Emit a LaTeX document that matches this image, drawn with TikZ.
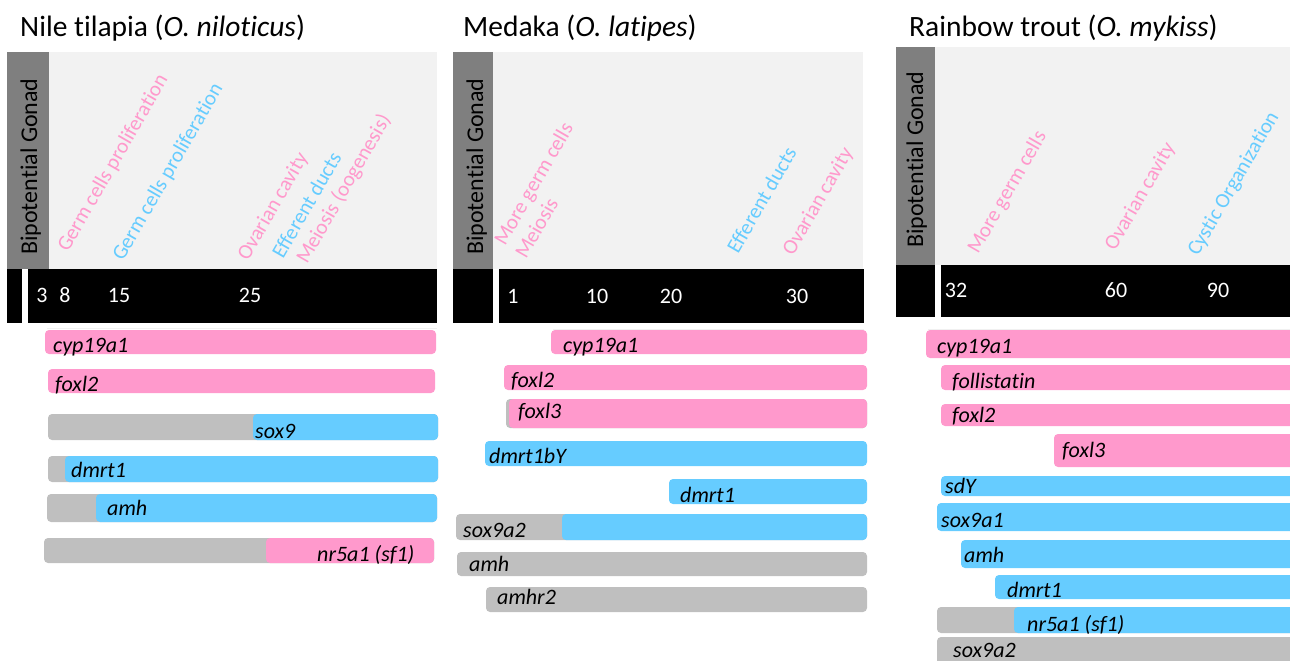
\documentclass[tikz,border=0pt]{standalone}
\usepackage{fontspec}
\setmainfont{Carlito}[Ligatures=CommonOff]
\definecolor{fempink}{HTML}{FF99CC}
\definecolor{malblue}{HTML}{66CCFF}
\definecolor{bargray}{HTML}{BFBFBF}
\definecolor{boxgray}{HTML}{7F7F7F}
\definecolor{bggray}{HTML}{F2F2F2}
\tikzset{
  title/.style={anchor=base west, inner sep=0pt, font=\fontsize{29.5}{30}\selectfont},
  gonad/.style={anchor=base west, rotate=90, inner sep=0pt, font=\fontsize{24}{24}\selectfont},
  stage/.style={anchor=base west, rotate=60, inner sep=0pt, font=\fontsize{21}{21}\selectfont},
  day/.style={text=white, inner sep=0pt, font=\fontsize{22}{22}\selectfont},
  gene/.style={anchor=base west, inner sep=0pt, font=\fontsize{22}{22}\selectfont\itshape},
  genebar/.style={rounded corners=4pt},
  faint/.style={draw=black!6, line width=0.8pt}
}
\begin{document}
\begin{tikzpicture}[x=1pt,y=-1pt]
    \useasboundingbox (0,0) rectangle (1290,661);
    \clip (0,0) rectangle (1290,661);
    % Nile tilapia
    \node[title] (T1) at (20,37) {Nile tilapia (\textit{O. niloticus})};
    \fill[bggray] (49,52) rectangle (437,269);
    \fill[boxgray] (7,52) rectangle (49,269);
    \node[gonad] (G1) at (37,255) {Bipotential Gonad};
    \fill (7,269) rectangle (22,323);
    \fill (28,269) rectangle (437,323);
    \foreach \x/\n in {42/3, 65/8, 119/15, 250/25}
      \node[day] (D1_\n) at (\x,295) {\n};
    \node[stage, text=fempink] (S1_1) at (68,253) {Germ cells proliferation};
    \node[stage, text=malblue] (S1_2) at (123,262) {Germ cells proliferation};
    \node[stage, text=fempink] (S1_3) at (248,262) {Ovarian cavity};
    \node[stage, text=malblue] (S1_4) at (283,260) {Efferent ducts};
    \node[stage, text=fempink] (S1_5) at (307,265) {Meiosis (oogenesis)};
    \draw[faint] (47,328) -- (437,328);
    \foreach \l/\s/\r/\t/\b/\c/\lx/\ly/\g [count=\i] in {
        45/45/436/330/354/fempink/53/352/cyp19a1,
        48/48/435/369/393/fempink/55/391/foxl2,
        48/253/438/414/440/malblue/255/438/sox9,
        48/65/438/456/482/malblue/71/477/dmrt1,
        47/96/437/494/522/malblue/107/515/amh,
        44/266/434/538/563/fempink/317/561/{nr5a1 (sf1)}}{
      \ifnum\s>\l\relax \fill[bargray, genebar] (\l,\t) rectangle (\r,\b); \fi
      \fill[\c, genebar] (\s,\t) rectangle (\r,\b);
      \node[gene] (B1_\i) at (\lx,\ly) {\g};
    }
    % Medaka
    \node[title] (T2) at (463,37) {Medaka (\textit{O. latipes})};
    \fill[bggray] (493,52) rectangle (863,269);
    \fill[boxgray] (453,52) rectangle (493,269);
    \node[gonad] (G2) at (483,255) {Bipotential Gonad};
    \fill (453,269) rectangle (493,323);
    \fill (499,269) rectangle (864,323);
    \foreach \x/\n in {513/1, 597/10, 671/20, 797/30}
      \node[day] (D2_\n) at (\x,296) {\n};
    \node[stage, text=fempink] (S2_1) at (505,247) {More germ cells};
    \node[stage, text=fempink] (S2_2) at (526,260) {Meiosis};
    \node[stage, text=malblue] (S2_3) at (738,255) {Efferent ducts};
    \node[stage, text=fempink] (S2_4) at (793,257) {Ovarian cavity};
    \draw[faint] (553,329) -- (864,329);
    \foreach \l/\s/\r/\t/\b/\c/\lx/\ly/\g [count=\i] in {
        551/551/867/330/354/fempink/563/352/cyp19a1,
        504/504/867/365/390/fempink/511/387/foxl2,
        506/509/867/399/428/fempink/518/418/foxl3,
        485/485/867/441/466/malblue/489/463/dmrt1bY,
        669/669/867/479/504/malblue/680/502/dmrt1,
        456/562/867/514/540/malblue/463/537/sox9a2,
        457/457/867/552/576/bargray/469/571/amh,
        486/486/867/587/612/bargray/497/604/amhr2}{
      \ifnum\s>\l\relax \fill[bargray, genebar] (\l,\t) rectangle (\r,\b); \fi
      \fill[\c, genebar] (\s,\t) rectangle (\r,\b);
      \node[gene] (B2_\i) at (\lx,\ly) {\g};
    }
    % Rainbow trout
    \node[title] (T3) at (909,37) {Rainbow trout (\textit{O. mykiss})};
    \fill[bggray] (935,47) rectangle (1290,265);
    \fill[boxgray] (896,47) rectangle (935,265);
    \node[gonad] (G3) at (923,248) {Bipotential Gonad};
    \fill (896,265) rectangle (935,317);
    \fill (941,265) rectangle (1290,317);
    \foreach \x/\n in {956/32, 1116/60, 1218/90}
      \node[day] (D3_\n) at (\x,290) {\n};
    \node[stage, text=fempink] (S3_1) at (978,255) {More germ cells};
    \node[stage, text=fempink] (S3_2) at (1115,252) {Ovarian cavity};
    \node[stage, text=malblue] (S3_3) at (1198,257) {Cystic Organization};
    \draw[faint] (928,329) -- (1290,329);
    \foreach \l/\s/\r/\t/\b/\c/\lx/\ly/\g [count=\i] in {
        926/926/1300/330/358/fempink/937/353/cyp19a1,
        941/941/1300/365/390/fempink/952/388/follistatin,
        941/941/1300/404/426/fempink/952/422/foxl2,
        1054/1054/1300/434/467/fempink/1062/457/foxl3,
        941/941/1300/476/496/malblue/945/493/sdY,
        937/937/1300/503/531/malblue/941/527/sox9a1,
        961/961/1300/540/568/malblue/964/562/amh,
        995/995/1300/575/599/malblue/1007/597/dmrt1,
        937/1014/1300/607/633/malblue/1027/631/{nr5a1 (sf1)},
        937/937/1300/637/672/bargray/953/657/sox9a2}{
      \ifnum\s>\l\relax \fill[bargray, genebar] (\l,\t) rectangle (\r,\b); \fi
      \fill[\c, genebar] (\s,\t) rectangle (\r,\b);
      \node[gene] (B3_\i) at (\lx,\ly) {\g};
    }
\end{tikzpicture}
\end{document}
